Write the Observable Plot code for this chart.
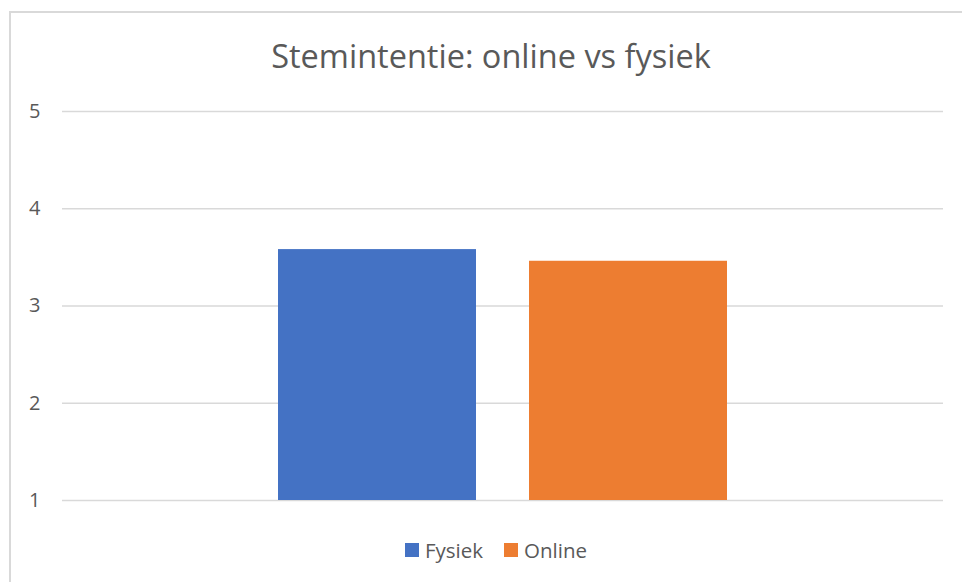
<!DOCTYPE html>
<html>
<head>
<meta charset="utf-8">
<script src="https://cdn.jsdelivr.net/npm/d3@7"></script>
<script src="https://cdn.jsdelivr.net/npm/@observablehq/plot@0.6"></script>
<style>
  html, body { margin: 0; padding: 0; background: #fff; overflow: hidden; }
  body { width: 962px; height: 582px; position: relative; font-family: "Open Sans", sans-serif; }
  #frame { position: absolute; left: 9px; top: 11px; width: 1000px; height: 700px; border: 2px solid #d9d9d9; box-sizing: border-box; }
  #title { position: absolute; left: 0; width: 982px; top: 33px; text-align: center; font-size: 32.5px; color: #595959; white-space: nowrap; }
  #chart { position: absolute; left: 0; top: 0; }
  #legend { position: absolute; left: 0; width: 992px; top: 535px; text-align: center; font-size: 20.5px; color: #595959; white-space: nowrap; }
  .item { display: inline-flex; align-items: center; margin: 0 10.5px; }
  .sw { width: 14px; height: 14px; display: inline-block; margin-right: 6px; }
</style>
</head>
<body>
<div id="frame"></div>
<div id="title"></div>
<div id="chart"></div>
<div id="legend"></div>
<script>
const titleText = "Stemintentie: online vs fysiek";
const series = ["Fysiek", "Online"];
const values = [3.58, 3.46];
const colors = ["#4472c4", "#ed7d31"];
const yTicks = [1, 2, 3, 4, 5];

const data = series.map((s, i) => ({series: s, value: values[i]}));

document.getElementById("title").textContent = titleText;

const chart = Plot.plot({
  width: 962,
  height: 582,
  marginTop: 111,
  marginBottom: 82,
  marginLeft: 62,
  marginRight: 19,
  style: {fontFamily: "Open Sans, sans-serif", fontSize: "20px", color: "#595959", background: "transparent"},
  x: {domain: series, paddingInner: 0.2127, paddingOuter: 0.858, axis: null},
  y: {domain: [1, 5], ticks: yTicks},
  color: {domain: series, range: colors},
  marks: [
    Plot.ruleY(yTicks, {stroke: "#d9d9d9", strokeWidth: 1.5}),
    Plot.axisY({ticks: yTicks, tickFormat: "d", tickSize: 0, tickPadding: 22, label: null, fill: "#595959", fontSize: 20}),
    Plot.barY(data, {x: "series", y1: 1, y2: "value", fill: "series"})
  ]
});
document.getElementById("chart").appendChild(chart);

const legend = document.getElementById("legend");
series.forEach((s, i) => {
  const item = document.createElement("span");
  item.className = "item";
  const sw = document.createElement("span");
  sw.className = "sw";
  sw.style.background = colors[i];
  item.appendChild(sw);
  item.appendChild(document.createTextNode(s));
  legend.appendChild(item);
});
</script>
</body>
</html>
